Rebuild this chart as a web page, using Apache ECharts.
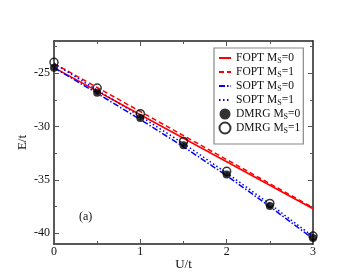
<!DOCTYPE html>
<html><head><meta charset="utf-8">
<script src="https://cdn.jsdelivr.net/npm/echarts@6/dist/echarts.min.js"></script>
<style>html,body{margin:0;padding:0;background:#fff}#c{width:352px;height:272px}</style>
</head><body><div id="c"></div>
<script>
const U = [0, 0.5, 1, 1.5, 2, 2.5, 3];
const foptMs0 = [-24.5, -26.7, -28.9, -31.1, -33.3, -35.5, -37.7];
const foptMs1 = [-24.1, -26.35, -28.6, -30.85, -33.1, -35.35, -37.6];
const soptMs0 = [-24.5, -26.9, -29.35, -31.9, -34.6, -37.5, -40.5];
const soptMs1 = [-24.1, -26.6, -29.05, -31.6, -34.35, -37.25, -40.3];
const dmrgMs0 = [-24.5, -26.85, -29.2, -31.75, -34.5, -37.45, -40.45];
const dmrgMs1 = [-24.0, -26.4, -28.8, -31.4, -34.2, -37.2, -40.25];
const yMajor = [-40, -35, -30, -25];
const yMinor = [-37.5, -32.5, -27.5, -22.5];
const names = ['FOPT Ms=0','FOPT Ms=1','SOPT Ms=0','SOPT Ms=1','DMRG Ms=0','DMRG Ms=1'];

const pts = a => U.map((u,i)=>[u,a[i]]);
const font = 'Liberation Serif';
const axisCol = '#222';
const yBase = {type:'value', min:-41, max:-22, splitLine:{show:false}};
const chart = echarts.init(document.getElementById('c'));
chart.setOption({
  animation:false,
  textStyle:{fontFamily:font},
  grid:{left:54,right:39,top:41,bottom:28,outerBoundsMode:'none',containLabel:false},
  xAxis:[
    {type:'value',min:0,max:3,interval:1,position:'bottom',
     name:'U/t',nameLocation:'middle',nameGap:14,nameMoveOverlap:false,nameTextStyle:{fontFamily:font,fontSize:13,color:'#111'},
     axisLine:{lineStyle:{color:axisCol,width:1.5}},
     axisTick:{inside:true,length:5,lineStyle:{color:'#555'}},
     minorTick:{show:true,splitNumber:2,length:3,lineStyle:{color:'#555'}},
     axisLabel:{fontFamily:font,fontSize:12,color:'#111',margin:2},
     splitLine:{show:false}},
    {type:'value',min:0,max:3,interval:1,position:'top',
     axisLine:{lineStyle:{color:axisCol,width:1.5}},
     axisTick:{inside:true,length:5,lineStyle:{color:'#555'}},
     minorTick:{show:true,splitNumber:2,length:3,lineStyle:{color:'#555'}},
     axisLabel:{show:false},splitLine:{show:false}}
  ],
  yAxis:[
    Object.assign({},yBase,{position:'left',
     name:'E/t',nameLocation:'middle',nameGap:25,nameMoveOverlap:false,nameRotate:90,nameTextStyle:{fontFamily:font,fontSize:13,color:'#111'},
     axisLine:{show:true,lineStyle:{color:axisCol,width:1.5}},
     axisTick:{show:true,inside:true,length:5,customValues:yMajor,lineStyle:{color:'#555'}},
     axisLabel:{fontFamily:font,fontSize:12,color:'#111',customValues:yMajor,margin:4}}),
    Object.assign({},yBase,{position:'left',
     axisLine:{show:false},
     axisTick:{show:true,inside:true,length:3,customValues:yMinor,lineStyle:{color:'#555'}},
     axisLabel:{show:false}}),
    Object.assign({},yBase,{position:'right',
     axisLine:{show:true,lineStyle:{color:axisCol,width:1.5}},
     axisTick:{show:true,inside:true,length:5,customValues:yMajor,lineStyle:{color:'#555'}},
     axisLabel:{show:false}}),
    Object.assign({},yBase,{position:'right',
     axisLine:{show:false},
     axisTick:{show:true,inside:true,length:3,customValues:yMinor,lineStyle:{color:'#555'}},
     axisLabel:{show:false}})
  ],
  legend:{
    orient:'vertical',left:214,top:48,
    padding:[3,3,9,4],itemGap:0,itemWidth:12,itemHeight:11,
    borderColor:'#888',borderWidth:1.2,borderRadius:0,backgroundColor:'#fff',
    data:names.map((n,i)=> i<4 ? {name:n,itemStyle:{opacity:0}} : {name:n}),
    formatter:n=>{
      const m = n.match(/^(\w+) Ms(=\d)$/);
      return '{n|'+m[1]+' M}{s|S}{n|'+m[2]+'}';
    },
    textStyle:{fontFamily:font,fontSize:11.5,color:'#111',
      rich:{n:{fontFamily:font,fontSize:11.5,color:'#111',lineHeight:14},
            s:{fontFamily:font,fontSize:8,color:'#111',lineHeight:8,padding:[6,0,0,0]}}}
  },
  graphic:[{type:'text',left:79,top:211,style:{text:'(a)',font:'12px "Liberation Serif"',fill:'#111'}}],
  series:[
    {name:names[0],type:'line',data:pts(foptMs0),symbol:'none',lineStyle:{color:'#ff0000',width:1.5},itemStyle:{color:'#ff0000'}},
    {name:names[1],type:'line',data:pts(foptMs1),symbol:'none',lineStyle:{color:'#ff0000',width:1.5,type:[5,3]},itemStyle:{color:'#ff0000'}},
    {name:names[2],type:'line',data:pts(soptMs0),symbol:'none',lineStyle:{color:'#0000ff',width:1.5,type:[6,2,1.5,2]},itemStyle:{color:'#0000ff'}},
    {name:names[3],type:'line',data:pts(soptMs1),symbol:'none',lineStyle:{color:'#0000ff',width:1.5,type:[1.5,2.5]},itemStyle:{color:'#0000ff'}},
    {name:names[4],type:'scatter',data:pts(dmrgMs0),symbol:'circle',symbolSize:8,itemStyle:{color:'#000'},z:5},
    {name:names[5],type:'scatter',data:pts(dmrgMs1),symbol:'circle',symbolSize:8,itemStyle:{color:'rgba(255,255,255,0)',borderColor:'#000',borderWidth:1.5},z:6}
  ]
});
</script></body></html>
